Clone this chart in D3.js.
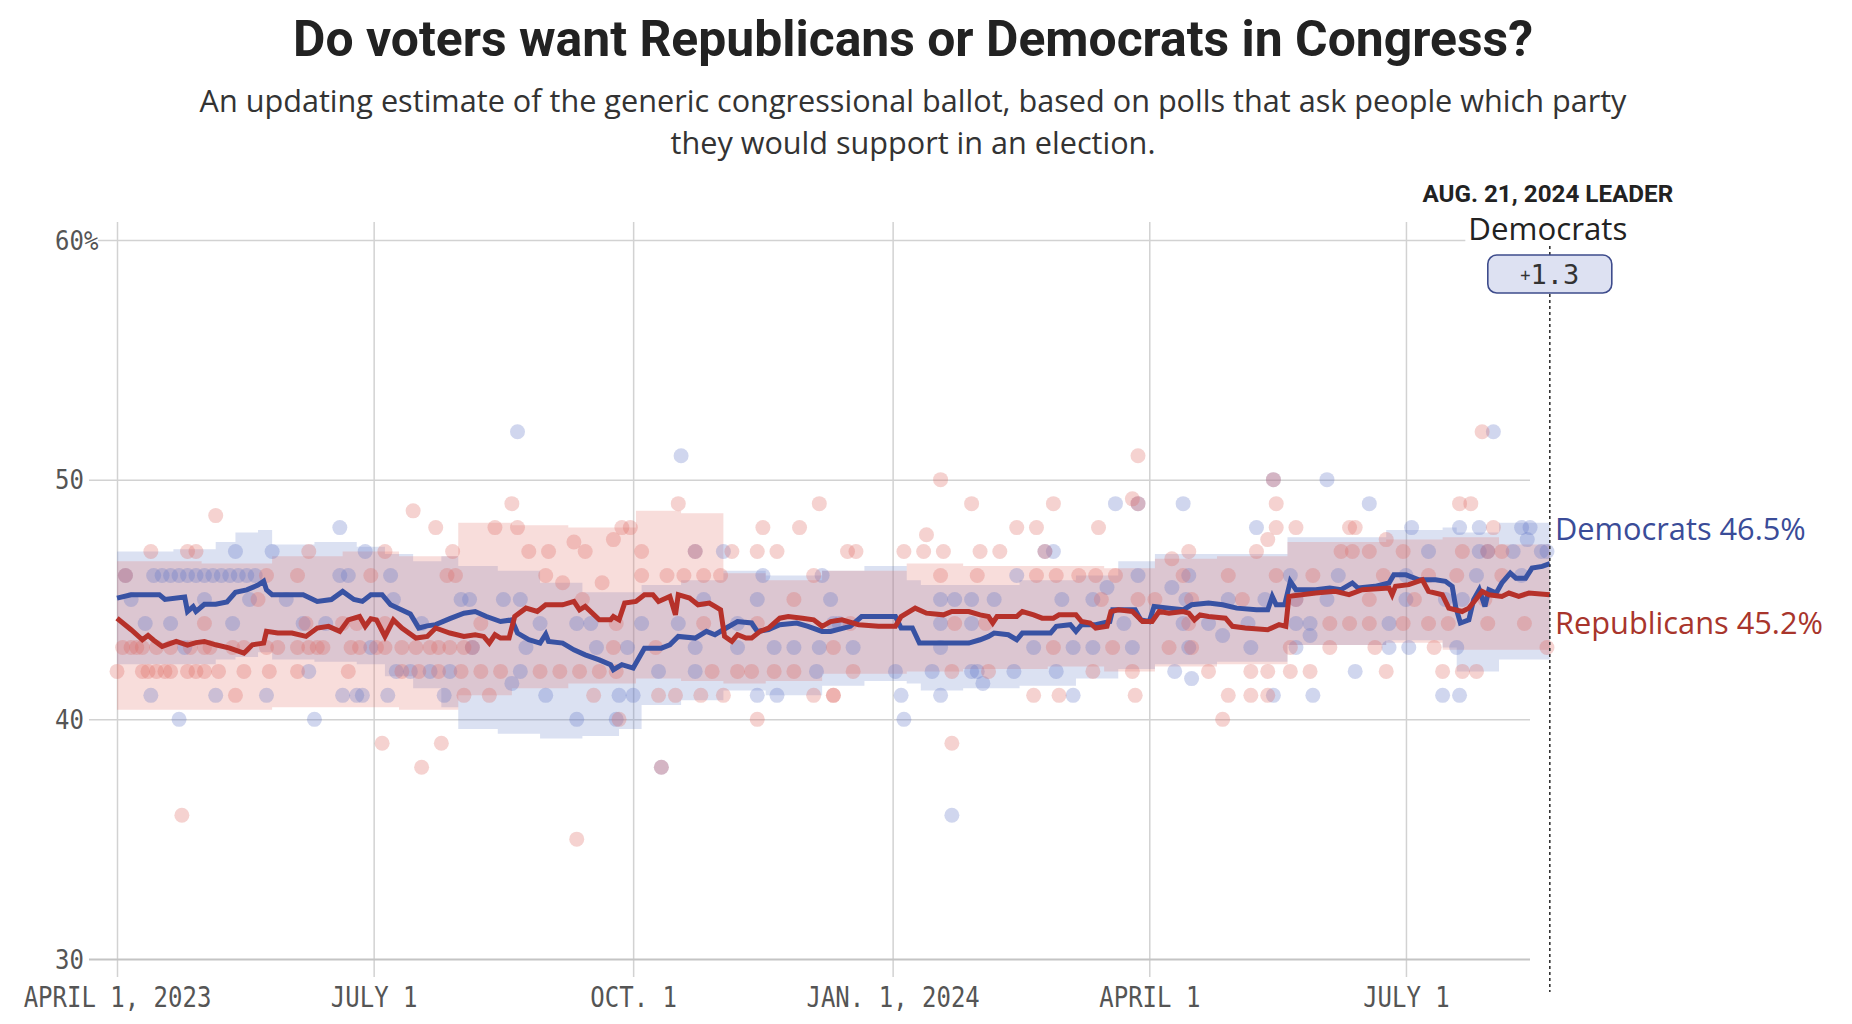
<!DOCTYPE html>
<html><head><meta charset="utf-8">
<script src="https://cdn.jsdelivr.net/npm/d3@7"></script>
<style>
html,body{margin:0;padding:0;background:#fff;}
svg{display:block;}
</style></head>
<body>
<svg id="chart" width="1852" height="1024"></svg>
<script>
// ---------- DATA ----------
const titleText = "Do voters want Republicans or Democrats in Congress?";
const subtitleLines = ["An updating estimate of the generic congressional ballot, based on polls that ask people which party",
                       "they would support in an election."];
const baseDate = "2023-04-01";          // day 0 of the day offsets below
const endDate = "2024-08-21";
const xTickDates = ["2023-04-01","2023-07-01","2023-10-01","2024-01-01","2024-04-01","2024-07-01"];
const xTickLabels = ["APRIL 1, 2023","JULY 1","OCT. 1","JAN. 1, 2024","APRIL 1","JULY 1"];
const yTickValues = [30,40,50,60];
const yTickLabels = ["30","40","50","60%"];
const parties = ["Democrats","Republicans"];
const finalValues = [46.5, 45.2];
const leaderDateLabel = "AUG. 21, 2024 LEADER";

// polling averages: [days since Apr 1 2023, %]
const demAvg = [[0,45.06],[5,45.2],[15,45.2],[17,45.0],[24,45.1],[25,44.5],[27,44.7],[28,44.5],[31,44.8],[35,44.8],[39,44.9],[42,45.3],[46,45.4],[50,45.6],[52,45.76],[53,45.4],[55,45.2],[66,45.2],[71,44.92],[76,45.0],[80,45.34],[84,45.0],[87,44.92],[90,45.2],[94,45.2],[97,44.78],[104,44.4],[107,43.81],[110,43.9],[113,43.95],[118,44.2],[123,44.43],[127,44.5],
[131,44.29],[136,44.08],[140,44.15],[142,43.6],[146,43.32],[150,43.18],[152,43.55],[153,43.25],[158,43.18],[162,42.9],[166,42.69],[171,42.48],[175,42.28],[176,42.07],[179,42.28],[183,42.14],[187,42.97],[193,42.97],[196,43.11],[199,43.46],[205,43.39],[209,43.67],[212,43.53],[216,43.81],[220,44.08],[225,44.02],[227,43.67],[231,43.74],[235,43.95],[241,44.02],[245,43.88],[250,43.67],
[253,43.67],[260,43.88],[264,44.29],[276,44.29],[278,43.81],[282,43.81],[284.5,43.18],[302,43.18],[306,43.32],[309,43.46],[311,43.6],[316,43.53],[319,43.32],[321,43.6],[331,43.6],[333,43.88],[338,43.95],[340,43.67],[342,43.95],[347,43.95],[352,44.08],[353,44.57],[361,44.57],[363,44.15],[366,44.08],[367.7,44.71],[373,44.64],[378,44.57],
[381,44.78],[387,44.85],[392,44.78],[397,44.64],[404,44.57],[408,44.57],[409.6,45.13],[411,44.78],[414,44.78],[416,45.76],[418,45.41],[425,45.41],[430,45.48],[434,45.41],[438,45.69],[440,45.48],[446,45.55],[451,45.69],[452.7,46.03],[457,46.03],[461.6,45.82],[467.5,45.82],[471,45.76],[473.4,45.55],[474.6,44.71],[476.3,44.02],[479.3,44.15],[481,44.99],[483,45.41],[485,44.71],[486.4,45.41],[489,45.27],[491,45.69],[494,46.1],[496,45.89],[499.4,45.89],[501.7,46.31],[505.3,46.38],[508,46.5]];

const repAvg = [[0,44.22],[5,43.74],[9,43.32],[11,43.5],[13,43.3],[16,43.04],[21,43.25],[25,43.1],[28,43.2],[31,43.25],[35,43.11],[40,42.97],[45,42.76],[48,43.11],[52,43.18],[53,43.67],[57,43.6],[62,43.6],[67,43.46],[71,43.81],[75,43.88],[79,43.67],[82,44.15],[86,44.29],[88,43.88],[90,44.2],[92,44.15],[95,43.46],[98,44.15],[101,43.81],[106,43.39],[110,43.46],[113,43.81],[118,43.6],[123,43.46],
[127,43.53],[130,43.46],[132,43.18],[134,43.53],[136,43.39],[139,43.39],[141,44.29],[145,44.64],[149,44.5],[152,44.78],[158,44.78],[162,44.92],[164,44.57],[166,44.71],[171,44.15],[175,44.15],[176,44.29],[178,44.15],[180,44.85],[184,44.92],[187,45.2],[190,45.2],[192,44.92],[196,45.13],[198,44.36],[199,45.2],[203,45.06],[206,44.78],[210,44.85],[212,44.71],[214,44.57],[215.4,43.46],[218,43.25],[220,43.53],[223,43.39],[225,43.39],[228,43.67],[231,43.81],[235,44.22],[238,44.29],[243,44.22],[247,44.15],[250,43.88],
[253,44.08],[257,44.15],[263,43.95],[270,43.88],[276,43.88],[278,44.29],[283,44.64],[287,44.43],[293,44.36],[296,44.5],[302,44.5],[306,44.36],[309,44.29],[310.5,44.02],[312,44.29],[319,44.29],[321,44.5],[325,44.36],[328,44.22],[332,44.22],[334,44.36],[340,44.36],[342,44.08],[345,44.02],[347,43.81],[351,43.88],[352.4,44.5],[355,44.57],[360,44.5],[363.6,44.08],[367,44.08],[369.5,44.5],[373,44.43],[378,44.5],
[380,44.43],[382,44.15],[384,44.36],[387,44.29],[393,44.22],[395.5,43.88],[400,43.81],[408,43.74],[412,43.95],[414.4,43.88],[415.5,45.13],[420,45.2],[425,45.27],[432,45.34],[436.8,45.2],[441.5,45.41],[451,45.48],[452.1,45.2],[453.3,45.55],[458,45.62],[462.8,45.82],[465,45.34],[469.9,45.2],[472.2,44.64],[476.9,44.5],[479.3,44.64],[481.7,44.99],[484,45.34],[486.4,45.2],[491,45.13],[493.5,45.27],[497,45.13],[500.6,45.27],[508,45.2]];

// uncertainty bands: [day, low, high]
const demBand = [[0,42.3,47.0],[20,42.3,47.1],[35,42.5,47.4],[42,42.6,47.8],[50,42.8,47.9],[55,42.5,47.3],[70,42.4,47.4],[85,42.3,47.2],[95,41.8,46.9],[105,41.3,46.6],[115,40.5,46.8],[121,39.6,46.4],[135,39.4,46.2],[150,39.2,45.7],[165,39.3,45.3],[178,39.6,45.3],[186,40.6,45.6],[200,40.8,45.8],[215,41.2,46.2],[230,41.0,46.0],[250,41.4,46.2],[265,41.6,46.4],[280,41.5,45.8],[285,41.2,45.6],[300,41.3,45.6],[320,41.4,45.8],[340,41.7,46.0],[355,42.1,46.6],[368,42.3,46.9],[390,42.4,46.9],[415,43.1,47.6],[450,43.3,47.9],[470,43.0,48.0],[475,42.0,47.8],[490,42.5,48.2],[508,43.3,48.5]];
const repBand = [[0,40.4,46.6],[30,40.4,46.5],[55,40.5,46.8],[80,40.5,47.0],[100,40.4,46.8],[121,41.0,48.2],[140,41.3,48.1],[160,41.5,48.0],[184,41.7,48.7],[200,41.6,48.6],[215,41.5,46.1],[230,41.6,45.8],[250,41.9,46.2],[280,42.0,46.5],[300,42.1,46.4],[330,42.2,46.4],[350,42.0,46.3],[368,42.2,46.7],[390,42.3,46.8],[415,43.1,47.4],[450,43.2,47.5],[470,42.9,47.6],[490,42.9,47.3],[508,43.0,47.2]];

// individual polls: [day, %]
const demPolls = [[3,46],[13,46],[16,46],[19,46],[22,46],[25,46],[28,46],[31,46],[34,46],[37,46],[40,46],[43,46],[46,46],[49,46],
[42,47],[79,48],[79,46],[82,46],[97,46],[31,45],[47,45],[98,45],[122,45],[5,45],[60,45],[66,44],[74,44],[108,44],[55,47],[88,47],[10,44],
[19,44],[41,44],[24,43],[90,43],[68,42],[99,42],[104,42],[111,42],[118,42],
[12,41],[35,41],[53,41],[80,41],[85,41],[87,41],[96,41],[116,41],[22,40],[70,40],
[125,45],[137,45],[143,45],[150,44],[163,44],[168,44],[186,44],[199,44],[220,44],[254,44],[126,43],[145,43],[170,43],[181,43],[205,43],[220,43],[233,43],[240,43],[249,43],[143,42],[192,42],[205,42],[248,42],[140,41.5],[152,41],[178,41],[227,41],[234,41],[163,40],[177,40],[183,41],[142,52],[200,51],[193,38],[208,45],[227,45],[229,46],[250,46],[215,47],[205,47],
[253,45],[256,44],[261,43],[276,42],[278,41],[279,40],[289,42],[292,41],[292,44],[292,43],[292,45],[297,45],[303,45],[303,44],[303,42],[305,42],[307,41.5],[311,45],[318,42],[319,46],[325,43],[329,47],[332,47],[333,42],[335,45],[339,43],[339,41],[346,45],[346,43],[351,45.5],[354,49],[357,44],[360,43],[362,46],[362,49],[374,45.5],[375,42],[378,44],[378,49],[379,45],[380,43],[381,41.7],[296,36],
[380,46],[387,44],[394,45],[401,44],[402,43],[404,48],[407,45],[410,41],[416,46],[418,45],[418,44],[418,43],[423,44],[423,43.5],[392,43.5],[424,41],[429,45],[429,50],[433,46],[439,42],[444,49],[451,44],[451,43],[457,45],[457,46],[458,43],[459,48],[465,47],[470,41],[471,45],[475,43],[476,41],[477,45],[476,48],[482,46],[483,47],[483,48],[486,47],[488,52],[495,47],[498,46],[498,48],[500,47.5],[501,48],[505,47],[507,47],[410,50]];

const repPolls = [[3,46],[53,46],[64,46],[90,46],[117,46],[120,46],[12,47],[25,47],[28,47],[68,47],[95,47],[119,47],[35,48.5],[105,48.7],[113,48],[31,44],[67,44],[80,44],[95,44],[50,45],[85,44],
[2,43],[5,43],[7,43],[9,43],[14,43],[19,43],[26,43],[31,43],[33,43],[41,43],[45,43],[53,43],[57,43],[64,43],[68,43],[71,43],[73,43],[83,43],[86,43],[92,43],[95,43],[101,43],[106,43],[111,43],[114,43],[118,43],[123,43],[126,43],
[0,42],[9,42],[11,42],[14,42],[17,42],[19,42],[25,42],[28,42],[31,42],[36,42],[45,42],[54,42],[64,42],[82,42],[101,42],[107,42],[114,42],[122,42],
[42,41],[123,41],[23,36],[94,39],[115,39],[108,38],
[140,49],[199,49],[249,49],[134,48],[142,48],[179,48],[182,48],[229,48],[242,48],[162,47.4],[176,47.5],[146,47],[153,47],[166,47],[186,47],[205,47],[218,47],[227,47],[234,47],[152,46],[158,45.7],[172,45.7],[186,46],[195,46],[201,46],[208,46],[214,46],[247,46],[165,45],[240,45],[129,44],[177,44],[208,44],[227,44],[176,43],[191,43],[129,42],[136,42],[150,42],[157,42],[164,42],[171,42],[177,42],[211,42],[220,42],[225,42],[233,42],[240,42],[132,41],[169,41],[192,41],[198,41],[207,41],[215,41],[247,41],[254,41],[163,35],[193,38],[227,40],[178,40],
[292,50],[303,49],[332,49],[360,49.2],[287,47.7],[319,48],[326,48],[348,48],[259,47],[262,47],[279,47],[286,47],[293,47],[306,47],[313,47],[329,47],[380,47],[292,46],[305,46],[326,46],[333,46],[341,46],[347,46],[354,46],[374,46.7],[378,46],[349,45],[362,45],[368,45],[260,44],[297,44],[308,44],[254,43],[332,43],[353,43],[373,43],[261,42],[296,42],[309,42],[346,42],[360,42],[254,41],[325,41],[334,41],[361,41],[296,39],[362,51],[362,49],
[411,49],[476,49],[480,49],[411,48],[418,48],[437,48],[439,48],[488,48],[408,47.5],[404,47],[434,47],[438,47],[444,47],[450,47.5],[456,47],[477,47],[486,47],[491,47],[394,46],[411,46],[424,46],[449,46],[465,46],[475,46],[491,46],[381,45],[399,45],[418,45],[444,45],[460,45],[485,45],[380,44],[430,44],[437,44],[444,44],[456,44],[465,44],[472,44],[486,44],[499,44],[381,43],[416,43],[430,43],[446,43],[467,43],[507,43],[387,42],[402,42],[408,42],[416,42],[423,42],[450,42],[470,42],[477,42],[482,42],[394,41],[402,41],[408,41],[392,40],[410,50],[484,52]];

// ---------- CHART ----------
const svg = d3.select("#chart");
const parse = d3.timeParse("%Y-%m-%d");
const t0 = parse(baseDate);
const tEnd = parse(endDate);
const toDate = d => new Date(t0.getTime() + d * 864e5);

const x = d3.scaleTime().domain([t0, tEnd]).range([117, 1549.8]);
const y = d3.scaleLinear().domain([30, 60]).range([959, 240]);

const BLUE = "#3852a3", RED = "#b6312a";
const MONO = "'DejaVu Sans Mono', monospace";

function fit(sel, target) {
  const L = sel.node().getComputedTextLength();
  const fs = parseFloat(sel.attr("font-size"));
  sel.attr("font-size", (fs * target / L).toFixed(2));
  return fs * target / L;
}

// title & subtitle
const title = svg.append("text").attr("x", 913).attr("y", 56).attr("text-anchor", "middle")
  .attr("font-family", "Roboto, sans-serif").attr("font-weight", 700).attr("font-size", 42)
  .attr("fill", "#222").text(titleText);
fit(title, 1240);
const sub1 = svg.append("text").attr("x", 913).attr("y", 112).attr("text-anchor", "middle")
  .attr("font-family", "'Open Sans', sans-serif").attr("font-size", 26).attr("fill", "#333").text(subtitleLines[0]);
const subSize = fit(sub1, 1427);
svg.append("text").attr("x", 913).attr("y", 154).attr("text-anchor", "middle")
  .attr("font-family", "'Open Sans', sans-serif").attr("font-size", subSize).attr("fill", "#333").text(subtitleLines[1]);

// grid / axes
const LBL_SCALE = 1.18;
const xAxis = d3.axisBottom(x).tickValues(xTickDates.map(parse))
  .tickFormat((d, i) => xTickLabels[i]).tickSizeInner(-(977 - 222)).tickSizeOuter(0);
const gx = svg.append("g").attr("transform", "translate(0,977)").call(xAxis);
gx.select(".domain").remove();
gx.selectAll(".tick line").attr("stroke", "#d2d2d2").attr("stroke-width", 1.5);
gx.selectAll(".tick text").attr("font-family", MONO).attr("font-size", 24).attr("fill", "#555")
  .attr("dy", null).attr("y", 30 / LBL_SCALE).attr("transform", `scale(1,${LBL_SCALE})`);

const yAxis = d3.axisLeft(y).tickValues(yTickValues).tickFormat((d, i) => yTickLabels[i])
  .tickSizeInner(1530 - 89).tickSizeOuter(0);
const gy = svg.append("g").attr("transform", "translate(1530,0)").call(yAxis);
gy.select(".domain").remove();
gy.selectAll(".tick line").attr("stroke", d => d === 30 ? "#c4c4c4" : "#d2d2d2")
  .attr("stroke-width", d => d === 30 ? 2.2 : 1.5)
  .attr("x2", d => d === 60 ? -(1530 - 98) : -(1530 - 89));
gy.selectAll(".tick text").attr("font-family", MONO).attr("font-size", 24).attr("fill", "#555")
  .attr("text-anchor", "start").attr("x", 55 - 1530).attr("dy", null)
  .attr("y", 9 / 1.1).attr("transform", "scale(1,1.1)");

// bands
const area = d3.area().x(d => x(toDate(d[0]))).y0(d => y(d[1])).y1(d => y(d[2])).curve(d3.curveStepAfter);
svg.append("path").datum(demBand).attr("d", area).attr("fill", "rgb(100,125,200)").attr("fill-opacity", 0.23);
svg.append("path").datum(repBand).attr("d", area).attr("fill", "rgb(225,110,100)").attr("fill-opacity", 0.23);

// polls
const gp = svg.append("g");
gp.selectAll("circle.dem").data(demPolls).join("circle").attr("class", "dem")
  .attr("cx", d => x(toDate(d[0]))).attr("cy", d => y(d[1])).attr("r", 7.5)
  .attr("fill", "rgb(100,120,200)").attr("fill-opacity", 0.3);
gp.selectAll("circle.rep").data(repPolls).join("circle").attr("class", "rep")
  .attr("cx", d => x(toDate(d[0]))).attr("cy", d => y(d[1])).attr("r", 7.5)
  .attr("fill", "rgb(222,105,100)").attr("fill-opacity", 0.3);

// average lines
const line = d3.line().x(d => x(toDate(d[0]))).y(d => y(d[1]));
svg.append("path").datum(demAvg).attr("d", line).attr("fill", "none").attr("stroke", BLUE)
  .attr("stroke-width", 5).attr("stroke-linejoin", "miter").attr("stroke-miterlimit", 3);
svg.append("path").datum(repAvg).attr("d", line).attr("fill", "none").attr("stroke", RED)
  .attr("stroke-width", 5).attr("stroke-linejoin", "miter").attr("stroke-miterlimit", 3);

// leader annotation
const xe = x(tEnd);
svg.append("line").attr("x1", xe).attr("x2", xe).attr("y1", 246).attr("y2", 992)
  .attr("stroke", "#333").attr("stroke-width", 1.6).attr("stroke-dasharray", "3,3");

const hdr = svg.append("text").attr("x", xe - 2).attr("y", 202).attr("text-anchor", "middle")
  .attr("font-family", "Roboto, sans-serif").attr("font-weight", 700).attr("font-size", 21)
  .attr("fill", "#222").text(leaderDateLabel);
fit(hdr, 251);

const leaderIdx = finalValues[0] >= finalValues[1] ? 0 : 1;
const partyBg = svg.append("rect").attr("fill", "#fff");
const party = svg.append("text").attr("x", xe - 2).attr("y", 240).attr("text-anchor", "middle")
  .attr("font-family", "'Open Sans', sans-serif").attr("font-size", 28).attr("fill", "#222")
  .text(parties[leaderIdx]);
fit(party, 159);
const pb = party.node().getBBox();
partyBg.attr("x", pb.x - 3).attr("y", pb.y).attr("width", pb.width + 6).attr("height", pb.height - 4);

const margin = Math.abs(finalValues[0] - finalValues[1]).toFixed(1);
svg.append("rect").attr("x", xe - 62).attr("y", 255).attr("width", 124).attr("height", 38).attr("rx", 9)
  .attr("fill", "#dde1f2").attr("stroke", "#3e4c8c").attr("stroke-width", 1.6);
const mt = svg.append("text").attr("x", xe).attr("y", 284).attr("text-anchor", "middle")
  .attr("font-family", MONO).attr("fill", "#333");
mt.append("tspan").attr("font-size", 17).attr("dy", -3).text("+");
mt.append("tspan").attr("font-size", 27).attr("dy", 3).text(margin);

// end labels
const endLbl = svg.append("g");
const labelY = [y(finalValues[0]) - 24, y(finalValues[1]) + 39];
const colors = ["#3a4c98", "#a8352c"];
const lbls = parties.map((p, i) => endLbl.append("text").attr("x", 1555).attr("y", labelY[i])
  .attr("font-family", "'Open Sans', sans-serif").attr("font-size", 28).attr("fill", colors[i])
  .text(`${p} ${finalValues[i].toFixed(1)}%`));
const endSize = fit(lbls[1], 268);
lbls[0].attr("font-size", endSize);
</script>
</body></html>
